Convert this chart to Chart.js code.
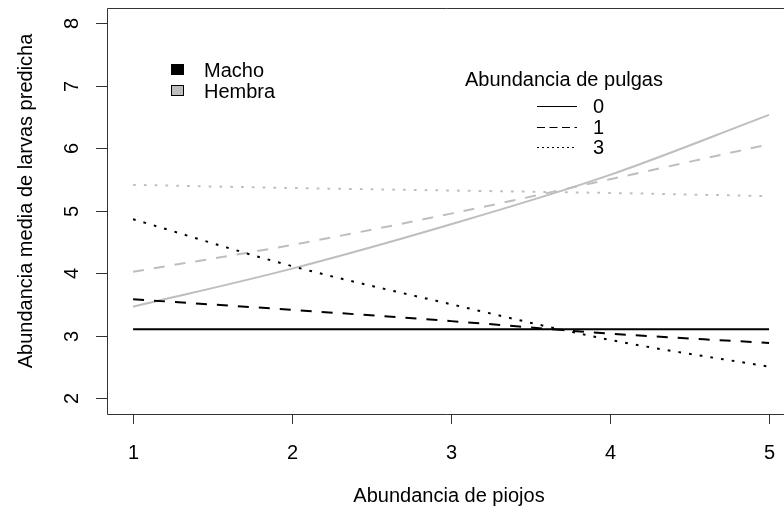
<!DOCTYPE html>
<html>
<head>
<meta charset="utf-8">
<script src="https://cdn.jsdelivr.net/npm/chart.js@4"></script>
<style>
  html, body { margin: 0; padding: 0; background: #fff; }
  #c { display: block; }
</style>
</head>
<body>
<canvas id="c" width="784" height="517"></canvas>
<script>
// ---------- Dati ----------
const piojos = [1, 2, 3, 4, 5];
const machoP0 = [3.10, 3.10, 3.10, 3.10, 3.10];
const machoP1 = [3.58, 3.41, 3.23, 3.03, 2.88];
const machoP3 = [4.86, 4.11, 3.50, 2.93, 2.50];
const hembraP0 = [3.46, 4.07, 4.78, 5.57, 6.53];
const hembraP1 = [4.02, 4.45, 4.95, 5.50, 6.06];
const hembraP3 = [5.41, 5.36, 5.32, 5.28, 5.23];

const xTicks = [1, 2, 3, 4, 5];
const yTicks = [2, 3, 4, 5, 6, 7, 8];
const sexLabels = ["Macho", "Hembra"];
const pulgasLabels = ["0", "1", "3"];

const NEGRO = "#000000";
const GRIS = "#bebebe";
const DASH = [11, 10];
const DOT = [2.7, 8.1];
const FONT = "20px 'Liberation Sans', Arial, sans-serif";

const pts = (ys) => piojos.map((x, i) => ({ x, y: ys[i] }));

function serie(ys, color, dash) {
  return {
    data: pts(ys),
    borderColor: color,
    borderWidth: 2,
    borderDash: dash,
    pointRadius: 0,
    fill: false,
    cubicInterpolationMode: "monotone",
  };
}

// ---------- Assi e legende stile R ----------
const rAxes = {
  id: "rAxes",
  afterDraw(chart) {
    const { ctx, chartArea: a, scales } = chart;
    const xs = scales.x, ys = scales.y;
    ctx.save();
    ctx.strokeStyle = "#333";
    ctx.lineWidth = 1;
    // box
    ctx.beginPath();
    ctx.moveTo(a.right + 2, a.top + 0.5);
    ctx.lineTo(a.left + 0.5, a.top + 0.5);
    ctx.lineTo(a.left + 0.5, a.bottom + 0.5);
    ctx.lineTo(a.right + 2, a.bottom + 0.5);
    ctx.stroke();

    ctx.fillStyle = "#000";
    ctx.font = FONT;
    ctx.textBaseline = "alphabetic";

    // tacche X
    ctx.textAlign = "center";
    xTicks.forEach((v) => {
      const px = Math.round(xs.getPixelForValue(v)) + 0.5;
      ctx.beginPath();
      ctx.moveTo(px, a.bottom);
      ctx.lineTo(px, a.bottom + 10);
      ctx.stroke();
      ctx.fillText(String(v), px, 459);
    });

    // tacche Y (etichette ruotate)
    yTicks.forEach((v) => {
      const py = Math.round(ys.getPixelForValue(v)) + 0.5;
      ctx.beginPath();
      ctx.moveTo(a.left, py);
      ctx.lineTo(a.left - 11, py);
      ctx.stroke();
      ctx.save();
      ctx.translate(78, py);
      ctx.rotate(-Math.PI / 2);
      ctx.fillText(String(v), 0, 0);
      ctx.restore();
    });

    // titoli assi
    ctx.fillText("Abundancia de piojos", 449, 502);
    ctx.save();
    ctx.translate(32, 201);
    ctx.rotate(-Math.PI / 2);
    ctx.fillText("Abundancia media de larvas predicha", 0, 0);
    ctx.restore();

    // legenda sesso
    const sexFill = [NEGRO, GRIS];
    ctx.textAlign = "left";
    sexLabels.forEach((lab, i) => {
      const y = 69 + i * 21;
      ctx.fillStyle = sexFill[i];
      ctx.fillRect(171, y - 5, 12, 10);
      ctx.strokeStyle = "#000";
      ctx.strokeRect(171.5, y - 4.5, 12, 10);
      ctx.fillStyle = "#000";
      ctx.fillText(lab, 204, y + 8);
    });

    // legenda pulgas
    ctx.fillText("Abundancia de pulgas", 465, 86);
    const dashes = [[], [8, 4.5], [2, 3]];
    pulgasLabels.forEach((lab, i) => {
      const y = 106 + i * 20.5;
      ctx.strokeStyle = "#000";
      ctx.setLineDash(dashes[i]);
      ctx.beginPath();
      ctx.moveTo(537, Math.round(y) + 0.5);
      ctx.lineTo(577, Math.round(y) + 0.5);
      ctx.stroke();
      ctx.setLineDash([]);
      ctx.fillText(lab, 593, y + 7);
    });
    ctx.restore();
  },
};

new Chart(document.getElementById("c"), {
  type: "line",
  data: {
    datasets: [
      serie(machoP0, NEGRO, []),
      serie(machoP1, NEGRO, DASH),
      serie(machoP3, NEGRO, DOT),
      serie(hembraP0, GRIS, []),
      serie(hembraP1, GRIS, DASH),
      serie(hembraP3, GRIS, DOT),
    ],
  },
  options: {
    responsive: false,
    animation: false,
    layout: { padding: { left: 107, top: 8, right: 0, bottom: 103 } },
    plugins: { legend: { display: false }, tooltip: { enabled: false } },
    scales: {
      x: { type: "linear", display: false, min: 0.836, max: 5.094 },
      y: { type: "linear", display: false, min: 1.744, max: 8.24 },
    },
  },
  plugins: [rAxes],
});
</script>
</body>
</html>
